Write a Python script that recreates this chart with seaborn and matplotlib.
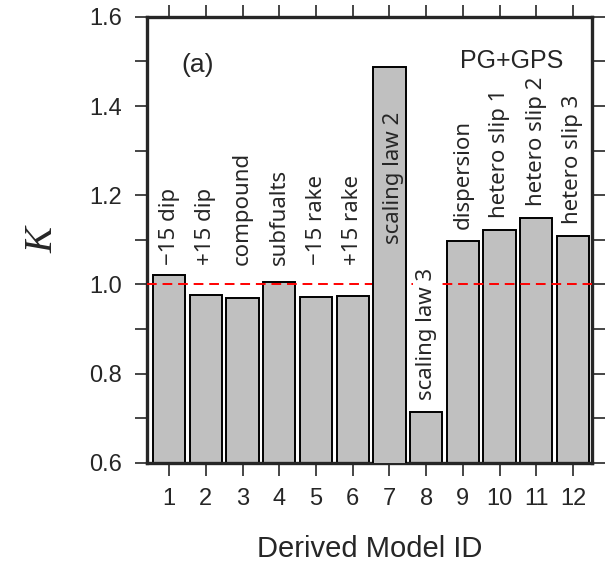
import matplotlib
matplotlib.use("Agg")
import matplotlib.pyplot as plt
import seaborn as sns
import pandas as pd
from matplotlib.ticker import MultipleLocator

# data
model_ids = ["1", "2", "3", "4", "5", "6", "7", "8", "9", "10", "11", "12"]
k_values = [1.022, 0.977, 0.970, 1.005, 0.972, 0.974,
            1.487, 0.714, 1.098, 1.123, 1.150, 1.108]
bar_labels = ["\u221215 dip", "+15 dip", "compound", "subfualts",
              "\u221215 rake", "+15 rake", "scaling law 2", "scaling law 3",
              "dispersion", "hetero slip 1", "hetero slip 2", "hetero slip 3"]

df = pd.DataFrame({"id": model_ids, "K": k_values, "label": bar_labels})

sns.set_style("ticks")
plt.rcParams["font.family"] = ["Liberation Sans", "DejaVu Sans"]

fig = plt.figure(figsize=(6.16, 5.63), dpi=100)
ax = fig.add_axes([0.239, 0.178, 0.722, 0.792])

sns.barplot(data=df, x="id", y="K", order=model_ids, color="#c0c0c0",
            saturation=1, edgecolor="black", linewidth=1.4, width=0.88, ax=ax)

ax.axhline(1.0, color="red", linestyle=(0, (5, 3)), linewidth=1.4, zorder=3)

# in the original the tallest bar sits on top of the reference line
tallest = int(df["K"].idxmax())
ax.patches[tallest].set_zorder(4)

# rotated text labels on/above the bars
lab_font = ["Noto Sans", "DejaVu Sans"]
for i, (h, lab) in enumerate(zip(df["K"], df["label"])):
    if h > 1.4:
        # tall bar: label inside the bar
        ax.text(i + 0.1, h - 0.1, lab, rotation=90, ha="center", va="top",
                fontsize=16, family=lab_font, zorder=5)
    elif abs(h - 1.0) < 0.05:
        # bars close to 1 get their labels lifted clear of the red line
        ax.text(i, 1.044, lab, rotation=90, ha="center", va="bottom",
                fontsize=16, family=lab_font, zorder=5)
    else:
        box = None
        if h < 1.0:
            box = dict(facecolor="white", edgecolor="none", pad=2)
        ax.text(i, h + 0.027, lab, rotation=90, ha="center", va="bottom",
                fontsize=16, family=lab_font, zorder=5, bbox=box)

ax.text(0.077, 0.891, "(a)", transform=ax.transAxes, fontsize=19,
        va="center", ha="left")
ax.text(0.935, 0.901, "PG+GPS", transform=ax.transAxes, fontsize=18,
        va="center", ha="right")

ax.set_ylim(0.6, 1.6)
ax.set_xlim(-0.6, 11.52)
ax.yaxis.set_major_locator(MultipleLocator(0.2))
ax.yaxis.set_minor_locator(MultipleLocator(0.1))
ax.set_yticks([0.6, 0.8, 1.0, 1.2, 1.4, 1.6])
ax.set_yticklabels(["0.6", "0.8", "1.0", "1.2", "1.4", "1.6"])

ax.tick_params(axis="both", which="both", direction="out", length=9,
               width=1.2, labelsize=17, top=True, right=True, pad=9)

for s in ax.spines.values():
    s.set_linewidth(2.4)
    s.set_visible(True)

ax.set_xlabel("Derived Model ID", fontsize=21, labelpad=18)
ax.set_ylabel("K", fontsize=28, family=["Liberation Serif", "DejaVu Serif"],
              style="italic", rotation=90, labelpad=20)

fig.savefig("out.png", dpi=100)
